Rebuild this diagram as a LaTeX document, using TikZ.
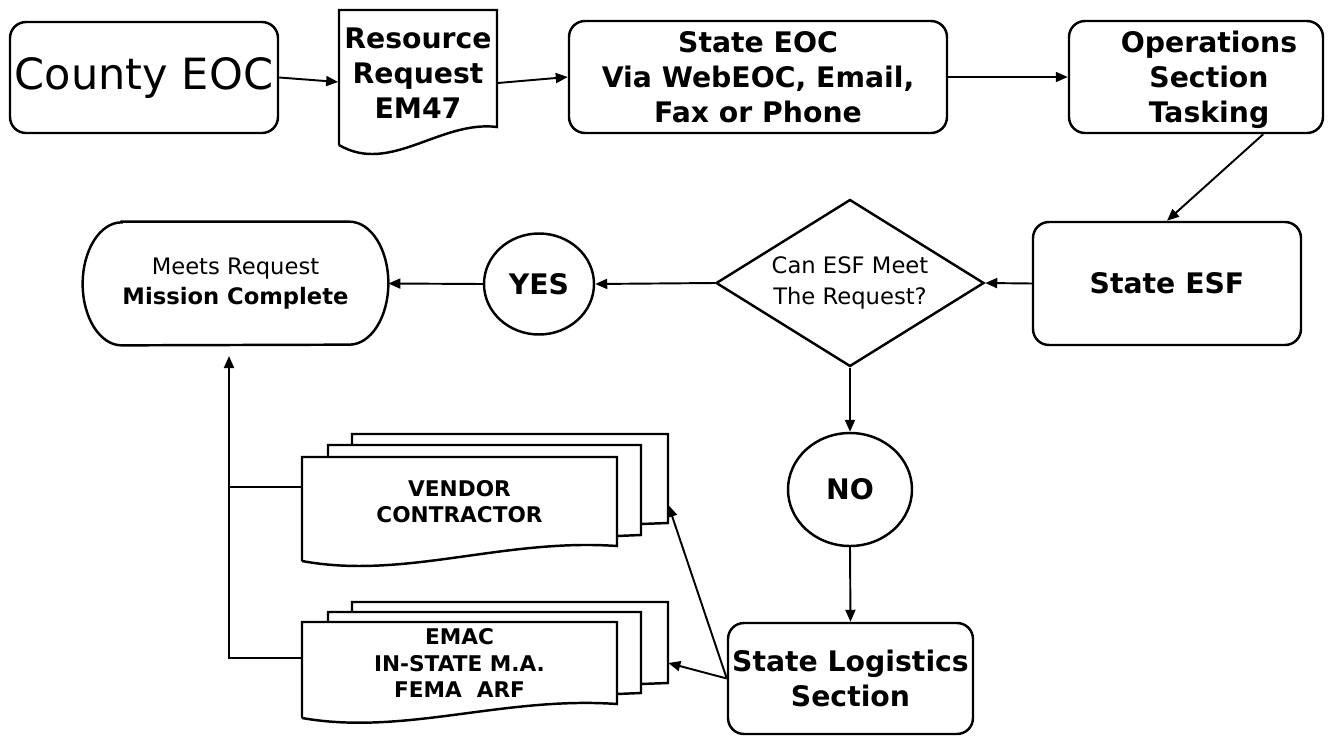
\documentclass[tikz,border=0pt]{standalone}
\usepackage{fontspec}
\setmainfont{DejaVu Sans}
\usetikzlibrary{shapes.geometric, arrows.meta}

\begin{document}
\begin{tikzpicture}[
	>={Triangle[length=0.24cm, width=0.2cm]},
	stepbox/.style={rectangle, draw=black, line width=1.4pt, rounded corners=0.32cm, align=center, inner sep=1pt},
	roundbox/.style={ellipse, draw=black, line width=1.4pt},
	bigtext/.style={font=\fontsize{16.1}{20}\selectfont\bfseries, align=center},
	plaintext/.style={font=\fontsize{12.9}{17.2}\selectfont, align=center},
	smalltext/.style={font=\fontsize{12.3}{15}\selectfont\bfseries, align=center},
	outline/.style={line width=1.4pt},
	link/.style={->, line width=1.1pt},
	]
	\useasboundingbox (0,0) rectangle (26.66,-14.72);
	%Top row
	\node[stepbox, minimum width=5.36cm, minimum height=2.22cm, font=\fontsize{24.5}{28}\selectfont] (county) at (2.88,-1.55) {County EOC};
	%
	\node[bigtext, minimum width=3.16cm, minimum height=2.52cm] (request) at (8.36,-1.46) {Resource\\Request\\EM47};
	\draw[outline] (6.78,-2.9) -- (6.78,-0.2) -- (9.94,-0.2) -- (9.94,-2.54) .. controls (8.8,-2.4) and (7.8,-3.5) .. (6.78,-2.9);
	%
	\node[stepbox, bigtext, minimum width=7.56cm, minimum height=2.24cm] (state) at (15.16,-1.54) {State EOC\\Via WebEOC, Email,\\Fax or Phone};
	%
	\node[stepbox, minimum width=5.08cm, minimum height=2.24cm] (ops) at (23.92,-1.54) {};
	\node[bigtext] (opstext) at (24.18,-1.6) {Operations\\Section\\Tasking};
	%Middle row
	\node[stepbox, bigtext, minimum width=5.36cm, minimum height=2.46cm] (esf) at (23.34,-5.67) {State ESF};
	\node[diamond, draw=black, line width=1.4pt, aspect=1.6, inner sep=0pt, minimum width=5.36cm, minimum height=3.34cm, plaintext] (decision) at (17,-5.66) {Can ESF Meet\\The Request?};
	\node[roundbox, bigtext, minimum width=2.2cm, minimum height=2.02cm] (yes) at (10.78,-5.68) {YES};
	\node[plaintext, minimum width=6.1cm, minimum height=2.46cm] (mission) at (4.71,-5.67) {Meets Request\\\textbf{Mission Complete}};
	\draw[outline] ([xshift=0.78cm]mission.north west) -- ([xshift=-0.78cm]mission.north east) arc[start angle=90, end angle=-90, x radius=0.78cm, y radius=1.23cm] -- ([xshift=0.78cm]mission.south west) arc[start angle=270, end angle=90, x radius=0.78cm, y radius=1.23cm] -- cycle;
	%Bottom part
	\node[roundbox, bigtext, minimum width=2.48cm, minimum height=2.26cm] (no) at (17,-9.79) {NO};
	\node[stepbox, bigtext, minimum width=4.9cm, minimum height=2.22cm, inner sep=0pt] (logistics) at (17.01,-13.57) {State Logistics\\Section};
	%
	\node[smalltext, minimum width=6.3cm, minimum height=1.78cm] (vendor) at (9.19,-10.03) {VENDOR\\CONTRACTOR};
	\draw[outline] (7.04,-8.9) -- (7.04,-8.68) -- (13.36,-8.68) -- (13.36,-10.46) -- (12.82,-10.48);
	\draw[outline] (6.56,-9.14) -- (6.56,-8.9) -- (12.82,-8.9) -- (12.82,-10.7) -- (12.34,-10.72);
	\draw[outline] (6.04,-11.22) -- (6.04,-9.14) -- (12.34,-9.14) -- (12.34,-10.92) .. controls (10.06,-10.76) and (8.08,-11.6) .. (6.04,-11.22);
	%
	\node[smalltext, minimum width=6.3cm, minimum height=1.64cm] (emac) at (9.19,-13.26) {EMAC\\IN-STATE M.A.\\FEMA\ \ ARF};
	\draw[outline] (7.04,-12.24) -- (7.04,-12.04) -- (13.36,-12.04) -- (13.36,-13.66) -- (12.82,-13.68);
	\draw[outline] (6.56,-12.44) -- (6.56,-12.24) -- (12.82,-12.24) -- (12.82,-13.86) -- (12.34,-13.88);
	\draw[outline] (6.04,-14.36) -- (6.04,-12.44) -- (12.34,-12.44) -- (12.34,-14.08) .. controls (10.06,-13.92) and (8.08,-14.72) .. (6.04,-14.36);
	%Connectors
	\draw[link] (county.east) -- ([yshift=-0.18cm]request.west);
	\draw[link] ([yshift=-0.2cm]request.east) -- (state.west);
	\draw[link] (state.east) -- (ops.west);
	\draw[link] ([xshift=-1.22cm]ops.south east) -- (esf.north);
	\draw[link] (esf.west) -- (decision.east);
	\draw[link] (decision.west) -- (yes.east);
	\draw[link] (yes.west) -- (mission.east);
	\draw[link] (decision.south) -- (no.north);
	\draw[link] (no.south) -- (logistics.north);
	\draw[link] (logistics.west) -- ([xshift=1.02cm, yshift=-0.07cm]vendor.east);
	\draw[link] (logistics.west) -- ([xshift=1.02cm]emac.east);
	%
	\coordinate (join) at (4.58,-7.12);
	\draw[link] ([yshift=0.1cm]emac.west) -| (join);
	\draw[line width=1.1pt] ([yshift=0.29cm]vendor.west) -- ([yshift=0.29cm]vendor.west -| join);
\end{tikzpicture}
\end{document}
